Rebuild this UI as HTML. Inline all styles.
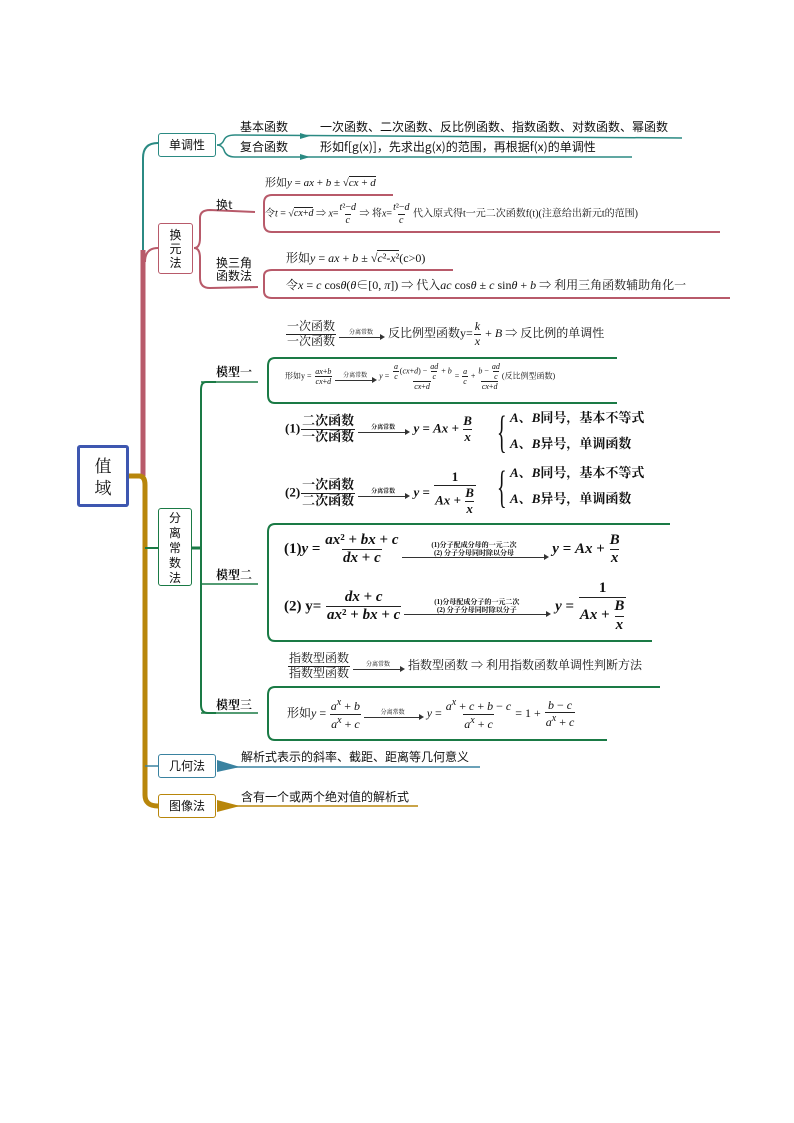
<!DOCTYPE html>
<html><head><meta charset="utf-8">
<style>
body{margin:0;background:#fff;}
#pg{position:relative;width:794px;height:1123px;overflow:hidden;font-family:"Liberation Serif","Noto Serif CJK SC","Noto Sans CJK SC",serif;color:#111;}
.t{position:absolute;white-space:nowrap;font-size:12px;line-height:14px;}
.b{font-weight:bold;}
.node{position:absolute;background:#fff;border:1.5px solid;border-radius:3px;font-family:"Noto Sans CJK SC",sans-serif;font-size:12px;display:flex;align-items:center;justify-content:center;text-align:center;line-height:14px;}
.fr{display:inline-flex;flex-direction:column;align-items:center;vertical-align:middle;line-height:1.15;margin:0 1px;}
.fr>span:last-child{border-top:1px solid #222;padding:0 1px;}
i{font-style:italic;}
.ar{display:inline-block;border-bottom:1px solid #333;position:relative;text-align:center;font-size:6px;line-height:7px;vertical-align:middle;margin:0 2px;}
.ar:after{content:"";position:absolute;right:-2px;bottom:-3px;border-left:5px solid #333;border-top:3px solid transparent;border-bottom:3px solid transparent;}
.br{position:absolute;font-size:20px;line-height:20px;transform:scaleY(2.3);transform-origin:top left;font-weight:normal;}
</style></head><body><div id="pg">
<svg width="794" height="1123" style="position:absolute;left:0;top:0">
<path d="M158,143 Q143,143 143,158 L143,250" stroke="#2b8a83" stroke-width="2" fill="none"/>
<path d="M143,250 L143,476" stroke="#b85a6a" stroke-width="5" fill="none"/>
<path d="M158,248 Q145,248 145,262" stroke="#b85a6a" stroke-width="2" fill="none"/>
<path d="M129,476 L139,476 Q145,476 145,485 L145,795 Q145,806 158,806" stroke="#b8860b" stroke-width="5" fill="none"/>
<path d="M145,548 L158,548" stroke="#1a7a45" stroke-width="2"/>
<path d="M145,766 L158,766" stroke="#3a82a0" stroke-width="1.5"/>
<path d="M217,145 Q222,145 224,140 Q226,135 235,135 L682,138" stroke="#2b8a83" stroke-width="1.5" fill="none"/>
<path d="M217,145 Q222,145 224,150 Q226,157 235,157 L632,157" stroke="#2b8a83" stroke-width="1.5" fill="none"/>
<path d="M300,133 l10,3 l-10,3z M300,154 l10,3 l-10,3z" fill="#2b8a83"/>
<path d="M194,248 Q200,248 200,238 L200,218 Q200,210 210,210 L255,212" stroke="#b85a6a" stroke-width="2" fill="none"/>
<path d="M194,248 Q200,248 200,258 L200,278 Q200,288 210,288 L258,287" stroke="#b85a6a" stroke-width="2" fill="none"/>
<path d="M393,195 L272,195 Q264,195 264,203 L264,224 Q264,232 272,232 L720,232" stroke="#b85a6a" stroke-width="2" fill="none"/>
<path d="M453,270 L272,270 Q264,270 264,276 L264,291 Q264,298 272,298 L730,298" stroke="#b85a6a" stroke-width="2" fill="none"/>
<path d="M192,548 L201,548" stroke="#1a7a45" stroke-width="3"/>
<path d="M216,382 L206,382 Q201,382 201,390 L201,705 Q201,713 208,713 L216,713" stroke="#1a7a45" stroke-width="2" fill="none"/>
<path d="M201,584 L258,584" stroke="#1a7a45" stroke-width="1.5"/>
<path d="M201,382 L258,382" stroke="#1a7a45" stroke-width="1.5"/>
<path d="M201,713 L258,713" stroke="#1a7a45" stroke-width="1.5"/>
<path d="M617,358 L275,358 Q268,358 268,366 L268,395 Q268,403 275,403 L617,403" stroke="#1a7a45" stroke-width="2" fill="none"/>
<path d="M670,524 L275,524 Q268,524 268,532 L268,633 Q268,641 275,641 L652,641" stroke="#1a7a45" stroke-width="2" fill="none"/>
<path d="M660,687 L275,687 Q268,687 268,695 L268,732 Q268,740 275,740 L607,740" stroke="#1a7a45" stroke-width="2" fill="none"/>
<path d="M217,760 L240,767 L217,772z" fill="#3a82a0"/>
<path d="M217,767 L480,767" stroke="#3a82a0" stroke-width="1.5"/>
<path d="M217,800 L240,806 L217,812z" fill="#b8860b"/>
<path d="M217,806 L418,806" stroke="#b8860b" stroke-width="1.5"/>
</svg>

<div class="node" style="left:77px;top:445px;width:46px;height:56px;border:3px solid #3e57b0;font-size:17px;line-height:22px;font-family:'Noto Serif CJK SC',serif">值<br>域</div>
<div class="node" style="left:158px;top:133px;width:56px;height:22px;border-color:#2b8a83">单调性</div>
<div class="node" style="left:158px;top:223px;width:33px;height:49px;border-color:#b85a6a">换<br>元<br>法</div>
<div class="node" style="left:158px;top:508px;width:32px;height:76px;border-color:#1a7a45;line-height:15px">分<br>离<br>常<br>数<br>法</div>
<div class="node" style="left:158px;top:754px;width:56px;height:22px;border-color:#3a82a0">几何法</div>
<div class="node" style="left:158px;top:794px;width:56px;height:22px;border-color:#b8860b">图像法</div>

<div class="t" style="left:240px;top:120px;font-family:'Noto Sans CJK SC',sans-serif">基本函数</div>
<div class="t" style="left:240px;top:140px;font-family:'Noto Sans CJK SC',sans-serif">复合函数</div>
<div class="t" style="left:320px;top:120px;font-family:'Noto Sans CJK SC',sans-serif">一次函数、二次函数、反比例函数、指数函数、对数函数、幂函数</div>
<div class="t" style="left:320px;top:140px;font-family:'Noto Sans CJK SC',sans-serif">形如f[g(x)]，先求出g(x)的范围，再根据f(x)的单调性</div>

<div class="t" style="left:216px;top:198px;font-family:'Noto Sans CJK SC',sans-serif">换t</div>
<div class="t" style="left:216px;top:256px;font-family:'Noto Sans CJK SC',sans-serif;line-height:13px">换三角<br>函数法</div>
<div class="t" style="left:265px;top:176px;font-size:11px">形如<i>y</i> = <i>ax</i> + <i>b</i> ± √<span style="border-top:1px solid #222"><i>cx</i> + <i>d</i></span></div>
<div class="t" style="left:265px;top:202px;font-size:10px">令<i>t</i> = √<span style="border-top:1px solid #222"><i>cx</i>+<i>d</i></span> ⇒ <i>x</i>=<span class="fr"><span><i>t</i>²−<i>d</i></span><span><i>c</i></span></span> ⇒ 将<i>x</i>=<span class="fr"><span><i>t</i>²−<i>d</i></span><span><i>c</i></span></span> 代入原式得t一元二次函数f(t)(注意给出新元t的范围)</div>
<div class="t" style="left:286px;top:251px;font-size:12px">形如<i>y</i> = <i>ax</i> + <i>b</i> ± √<span style="border-top:1px solid #222"><i>c</i>²-<i>x</i>²</span>(c&gt;0)</div>
<div class="t" style="left:286px;top:278px;font-size:12px">令<i>x</i> = <i>c</i> cos<i>θ</i>(<i>θ</i>∈[0, <i>π</i>]) ⇒ 代入<i>ac</i> cos<i>θ</i> ± <i>c</i> sin<i>θ</i> + <i>b</i> ⇒ 利用三角函数辅助角化一</div>

<div class="t b" style="left:216px;top:365px">模型一</div>
<div class="t b" style="left:216px;top:568px">模型二</div>
<div class="t b" style="left:216px;top:698px">模型三</div>

<div class="t" style="left:285px;top:320px"><span class="fr"><span>一次函数</span><span>一次函数</span></span><span class="ar" style="width:44px">分离常数</span> 反比例型函数y=<span class="fr"><span><i>k</i></span><span><i>x</i></span></span> + <i>B</i> ⇒ 反比例的单调性</div>
<div class="t" style="left:285px;top:362px;font-size:8px">形如y = <span class="fr"><span><i>ax</i>+<i>b</i></span><span><i>cx</i>+<i>d</i></span></span><span class="ar" style="width:40px">分离常数</span> <i>y</i> = <span class="fr"><span><span class="fr"><span><i>a</i></span><span><i>c</i></span></span>(<i>cx</i>+<i>d</i>) − <span class="fr"><span><i>ad</i></span><span><i>c</i></span></span> + <i>b</i></span><span><i>cx</i>+<i>d</i></span></span> = <span class="fr"><span><i>a</i></span><span><i>c</i></span></span> + <span class="fr"><span><i>b</i> − <span class="fr"><span><i>ad</i></span><span><i>c</i></span></span></span><span><i>cx</i>+<i>d</i></span></span>(反比例型函数)</div>

<div class="t b" style="left:285px;top:414px;font-size:13px">(1)<span class="fr"><span>二次函数</span><span>一次函数</span></span><span class="ar" style="width:50px">分离常数</span> <i>y</i> = <i>Ax</i> + <span class="fr"><span><i>B</i></span><span><i>x</i></span></span></div>
<div class="br" style="left:497px;top:410px">{</div>
<div class="t b" style="left:510px;top:411px;font-size:13px"><i>A</i>、<i>B</i>同号，基本不等式</div>
<div class="t b" style="left:510px;top:437px;font-size:13px"><i>A</i>、<i>B</i>异号，单调函数</div>
<div class="t b" style="left:285px;top:470px;font-size:13px">(2)<span class="fr"><span>一次函数</span><span>二次函数</span></span><span class="ar" style="width:50px">分离常数</span> <i>y</i> = <span class="fr"><span>1</span><span><i>Ax</i> + <span class="fr"><span><i>B</i></span><span><i>x</i></span></span></span></span></div>
<div class="br" style="left:497px;top:465px">{</div>
<div class="t b" style="left:510px;top:466px;font-size:13px"><i>A</i>、<i>B</i>同号，基本不等式</div>
<div class="t b" style="left:510px;top:492px;font-size:13px"><i>A</i>、<i>B</i>异号，单调函数</div>

<div class="t b" style="left:284px;top:532px;font-size:15px">(1)<i>y</i> = <span class="fr"><span><i>ax</i>² + <i>bx</i> + <i>c</i></span><span><i>dx</i> + <i>c</i></span></span><span class="ar" style="width:145px;font-size:7px;line-height:8px">(1)分子配成分母的一元二次<br>(2) 分子分母同时除以分母</span> <i>y</i> = <i>Ax</i> + <span class="fr"><span><i>B</i></span><span><i>x</i></span></span></div>
<div class="t b" style="left:284px;top:580px;font-size:15px">(2) y= <span class="fr"><span><i>dx</i> + <i>c</i></span><span><i>ax</i>² + <i>bx</i> + <i>c</i></span></span><span class="ar" style="width:145px;font-size:7px;line-height:8px">(1)分母配成分子的一元二次<br>(2) 分子分母同时除以分子</span> <i>y</i> = <span class="fr"><span>1</span><span><i>Ax</i> + <span class="fr"><span><i>B</i></span><span><i>x</i></span></span></span></span></div>

<div class="t" style="left:287px;top:652px"><span class="fr"><span>指数型函数</span><span>指数型函数</span></span><span class="ar" style="width:50px">分离常数</span> 指数型函数 ⇒ 利用指数函数单调性判断方法</div>
<div class="t" style="left:287px;top:697px;font-size:12px">形如<i>y</i> = <span class="fr"><span><i>a<sup>x</sup></i> + <i>b</i></span><span><i>a<sup>x</sup></i> + <i>c</i></span></span><span class="ar" style="width:58px">分离常数</span> <i>y</i> = <span class="fr"><span><i>a<sup>x</sup></i> + <i>c</i> + <i>b</i> − <i>c</i></span><span><i>a<sup>x</sup></i> + <i>c</i></span></span> = 1 + <span class="fr"><span><i>b</i> − <i>c</i></span><span><i>a<sup>x</sup></i> + <i>c</i></span></span></div>

<div class="t" style="left:241px;top:750px;font-family:'Noto Sans CJK SC',sans-serif">解析式表示的斜率、截距、距离等几何意义</div>
<div class="t" style="left:241px;top:790px;font-family:'Noto Sans CJK SC',sans-serif">含有一个或两个绝对值的解析式</div>
</div></body></html>
